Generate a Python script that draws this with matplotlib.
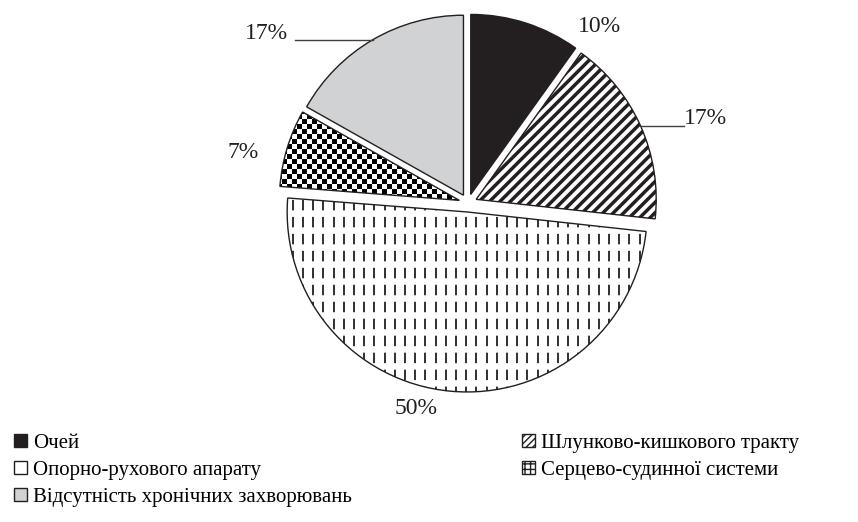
import numpy as np
import matplotlib.pyplot as plt
from matplotlib.patches import Wedge, Patch
from matplotlib.collections import LineCollection

plt.rcParams['font.family'] = ['Liberation Serif', 'DejaVu Serif']

categories = ['Очей', 'Шлунково-кишкового тракту', 'Опорно-рухового апарату',
              'Серцево-судинної системи', 'Відсутність хронічних захворювань']
values = [10, 17, 50, 7, 17]
pct_labels = ['10%', '17%', '50%', '7%', '17%']

# label anchors (data units, radius = 1)
label_xy = [(0.733, 0.978), (1.322, 0.467), (-0.289, -1.139), (-1.25, 0.278), (-1.122, 0.944)]
leader = [False, True, False, False, True]

fig = plt.figure(figsize=(8.58, 5.22), dpi=100)
ax = fig.add_axes([0, 0, 1, 1])

faces = ['#231f20', 'white', 'white', 'white', '#d1d2d4']
wedges, _ = ax.pie(values, startangle=90, counterclock=False, colors=faces,
                   explode=[0.05] * 5, radius=1,
                   wedgeprops=dict(edgecolor='none', linewidth=0))

px = 1 / 180.0  # one pixel in data units

# diagonal stripes for wedge 1
w = wedges[1]
c = np.arange(-3, 3, 10.4 * px)
segs = [[(-2, -2 + ci), (2, 2 + ci)] for ci in c]
lc = LineCollection(segs, colors='#231f20', linewidths=2.5, zorder=2)
ax.add_collection(lc)
lc.set_clip_path(w)

# vertical dashes for wedge 2
w = wedges[2]
xs = np.arange(-1.2, 1.2, 10.2 * px)
segs = [[(x, 0.3), (x, -1.3)] for x in xs]
lc = LineCollection(segs, colors='#231f20', linewidths=1.3,
                    linestyles=[(0, (5.8, 3.6))], zorder=2)
ax.add_collection(lc)
lc.set_clip_path(w)

# checkerboard for wedge 3
w = wedges[3]
sq = 5.0 * px
n = int(2.4 / sq)
ii, jj = np.meshgrid(np.arange(n), np.arange(n))
board = (ii + jj) % 2
im = ax.imshow(board, cmap='gray', extent=(-1.2, -1.2 + n * sq, -0.2, -0.2 + n * sq),
               interpolation='nearest', zorder=2, vmin=0, vmax=1.0)
im.set_clip_path(w)

# outlines on top
for w in wedges:
    ax.add_patch(Wedge(w.center, w.r, w.theta1, w.theta2, fill=False,
                       edgecolor='#231f20', linewidth=1.0, zorder=4))

for i, w in enumerate(wedges):
    lx, ly = label_xy[i]
    ax.text(lx, ly, pct_labels[i], fontsize=17, ha='center', va='center', color='#231f20')
    if leader[i]:
        mid = np.deg2rad((w.theta1 + w.theta2) / 2)
        ax0 = w.center[0] + w.r * np.cos(mid)
        ay0 = w.center[1] + w.r * np.sin(mid)
        end = lx - 0.12 if lx > 0 else lx + 0.16
        ax.plot([ax0, end], [ay0, ay0], color='#404040', linewidth=1.0, zorder=5)

ax.set_xlim(-468 * px, 390 * px)
ax.set_ylim(-319 * px, 203 * px)
ax.set_aspect('equal')
ax.axis('off')

# legend, column-wise order
legend_hatch = [None, '/////', None, '+++', None]
handles = [Patch(facecolor=faces[i], edgecolor='#231f20', hatch=legend_hatch[i],
                 linewidth=1.0, label=categories[i]) for i in range(5)]
order = [0, 2, 4, 1, 3]
fig.legend([handles[i] for i in order], [categories[i] for i in order],
           loc='upper left', bbox_to_anchor=(14 / 858, 1 - 434 / 522), ncol=2,
           frameon=False, fontsize=15, handlelength=0.6, handleheight=0.6,
           handletextpad=0.3, labelspacing=0.38, columnspacing=8.2,
           borderpad=0, borderaxespad=0)

fig.savefig('out.png', dpi=100)
